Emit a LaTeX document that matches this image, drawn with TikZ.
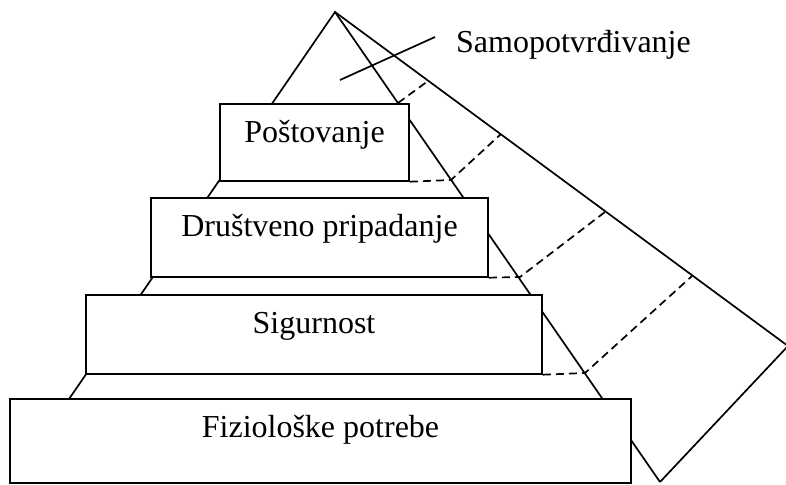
\documentclass[tikz,border=0pt]{standalone}
\usepackage{fontspec}
\setmainfont{Liberation Serif}
\tikzset{stair/.style={draw, fill=white, line width=1.7pt, inner sep=0pt, anchor=north, text height=39pt},
  rung/.style={line width=1.7pt, dash pattern=on 8pt off 5pt}}
\begin{document}
\begin{tikzpicture}[x=1pt,y=-1pt,line width=1.7pt,font=\fontsize{32}{38}\selectfont]
\useasboundingbox (0,0) rectangle (786,484);
\coordinate (apex) at (335,12); \coordinate (left) at (12,482); \coordinate (right) at (660,482); \coordinate (far) at (788,346);
\draw (left) -- (apex) -- (right); \draw (apex) -- (far) -- (right);
\coordinate (pointer) at (340,80); \coordinate (labelend) at (435,37);
\draw (pointer) -- (labelend);
\node [anchor=base west] (selfact) at (452,53) {Samopotvrđivanje};
\node [stair, minimum width=189pt, text depth=38pt] (respect) at (314.5,103) {Poštovanje};
\node [stair, minimum width=337pt, text depth=40pt] (social) at (319.5,197) {Društveno pripadanje};
\node [stair, minimum width=456pt, text depth=40pt] (safety) at (314,294) {Sigurnost};
\node [stair, minimum width=621pt, text depth=45pt] (body) at (320.5,398) {Fiziološke potrebe};
\draw [rung] (398,103) -- (428,81);
\draw [rung] (respect.south east) -- (451,180) -- (501,134);
\draw [rung] (social.south east) -- (520,277) -- (605,212);
\draw [rung] (safety.south east) -- (585,373) -- (692,276);
\end{tikzpicture}
\end{document}
